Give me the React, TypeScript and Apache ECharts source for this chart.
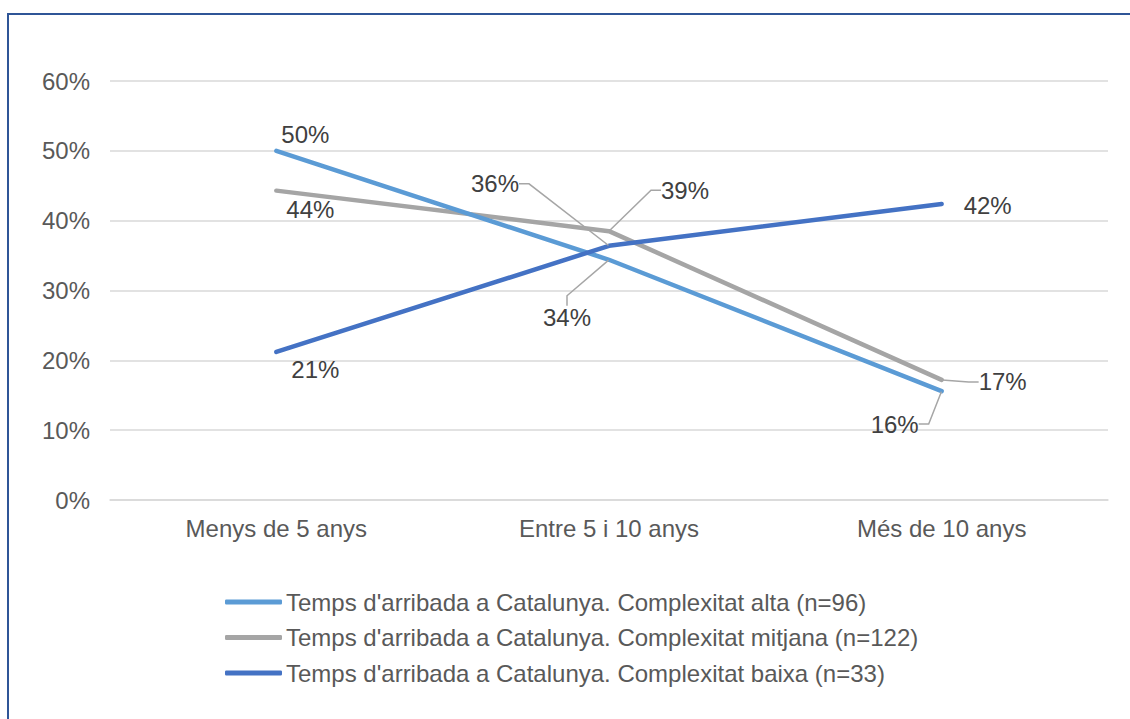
import React, { useEffect, useRef } from "react";
import * as echarts from "echarts";

const categories = ["Menys de 5 anys", "Entre 5 i 10 anys", "Més de 10 anys"];
const seriesNames = [
  "Temps d'arribada a Catalunya. Complexitat alta (n=96)",
  "Temps d'arribada a Catalunya. Complexitat mitjana (n=122)",
  "Temps d'arribada a Catalunya. Complexitat baixa (n=33)",
];
const alta = [50.0, 34.4, 15.6];
const mitjana = [44.3, 38.5, 17.2];
const baixa = [21.2, 36.4, 42.4];
const yTicks = { min: 0, max: 60, interval: 10 };

const colors = ["#5B9BD5", "#A5A5A5", "#4472C4"];
// label offsets (px) relative to each point, and whether a leader line is drawn
const labelOffsets = [
  [[29, -16, false], [-42, 58, true], [-47, 33, true]],
  [[34, 19, false], [76, -41, true], [61, 2, true]],
  [[39, 18, false], [-114, -62, true], [46, 2, false]],
];

const FONT = "'Liberation Sans', Arial, sans-serif";
const FS = 24;

export default function App() {
  const ref = useRef<HTMLDivElement>(null);
  useEffect(() => {
    if (!ref.current) return;
    const chart = echarts.init(ref.current, null, { renderer: "svg" });
    const all = [alta, mitjana, baixa];
    chart.setOption({
      animation: false,
      grid: { left: 110, right: 22, top: 81, bottom: 219, containLabel: false },
      xAxis: {
        type: "category",
        data: categories,
        axisLine: { lineStyle: { color: "#D9D9D9", width: 1.5 } },
        axisTick: { show: false },
        axisLabel: { color: "#595959", fontSize: FS, fontFamily: FONT, margin: 16 },
      },
      yAxis: {
        type: "value",
        min: yTicks.min,
        max: yTicks.max,
        interval: yTicks.interval,
        axisLine: { show: false },
        axisTick: { show: false },
        splitLine: { lineStyle: { color: "#D9D9D9", width: 1.5 } },
        axisLabel: {
          color: "#595959",
          fontSize: FS,
          fontFamily: FONT,
          margin: 20,
          formatter: "{value}%",
        },
      },
      legend: {
        orient: "vertical",
        left: 225,
        top: 590,
        padding: 0,
        itemWidth: 57,
        itemHeight: 5,
        itemGap: 11.5,
        icon: "roundRect",
        textStyle: { color: "#595959", fontSize: FS, fontFamily: FONT, padding: [0, 0, 0, -1] },
        data: seriesNames,
      },
      series: all.map((vals, si) => ({
        name: seriesNames[si],
        type: "line",
        data: vals.map((v, di) => ({
          value: v,
          labelLine: { show: labelOffsets[si][di][2] as boolean },
        })),
        color: colors[si],
        symbol: "circle",
        symbolSize: 1,
        lineStyle: { width: 4.5, color: colors[si], cap: "round", join: "round" },
        itemStyle: { color: colors[si] },
        z: si === 2 ? 4 : 3 - si,
        label: {
          show: true,
          position: "inside",
          color: "#404040",
          fontSize: FS,
          fontFamily: FONT,
          formatter: (p: any) => Math.round(p.value) + "%",
        },
        labelLine: {
          show: false,
          length2: 10,
          lineStyle: { color: "#A6A6A6", width: 1.5 },
        },
        labelLayout: (p: any) => {
          const o = labelOffsets[p.seriesIndex][p.dataIndex];
          return { dx: o[0] as number, dy: o[1] as number };
        },
      })),
    });
    return () => chart.dispose();
  }, []);
  return (
    <>
      <div
        ref={ref}
        style={{ position: "fixed", left: 0, top: 0, width: 1130, height: 719, background: "#fff" }}
      />
      <div
        style={{
          position: "fixed",
          left: 7,
          top: 13,
          width: 1200,
          height: 800,
          borderLeft: "2px solid #2F5597",
          borderTop: "2px solid #2F5597",
          pointerEvents: "none",
        }}
      />
    </>
  );
}
